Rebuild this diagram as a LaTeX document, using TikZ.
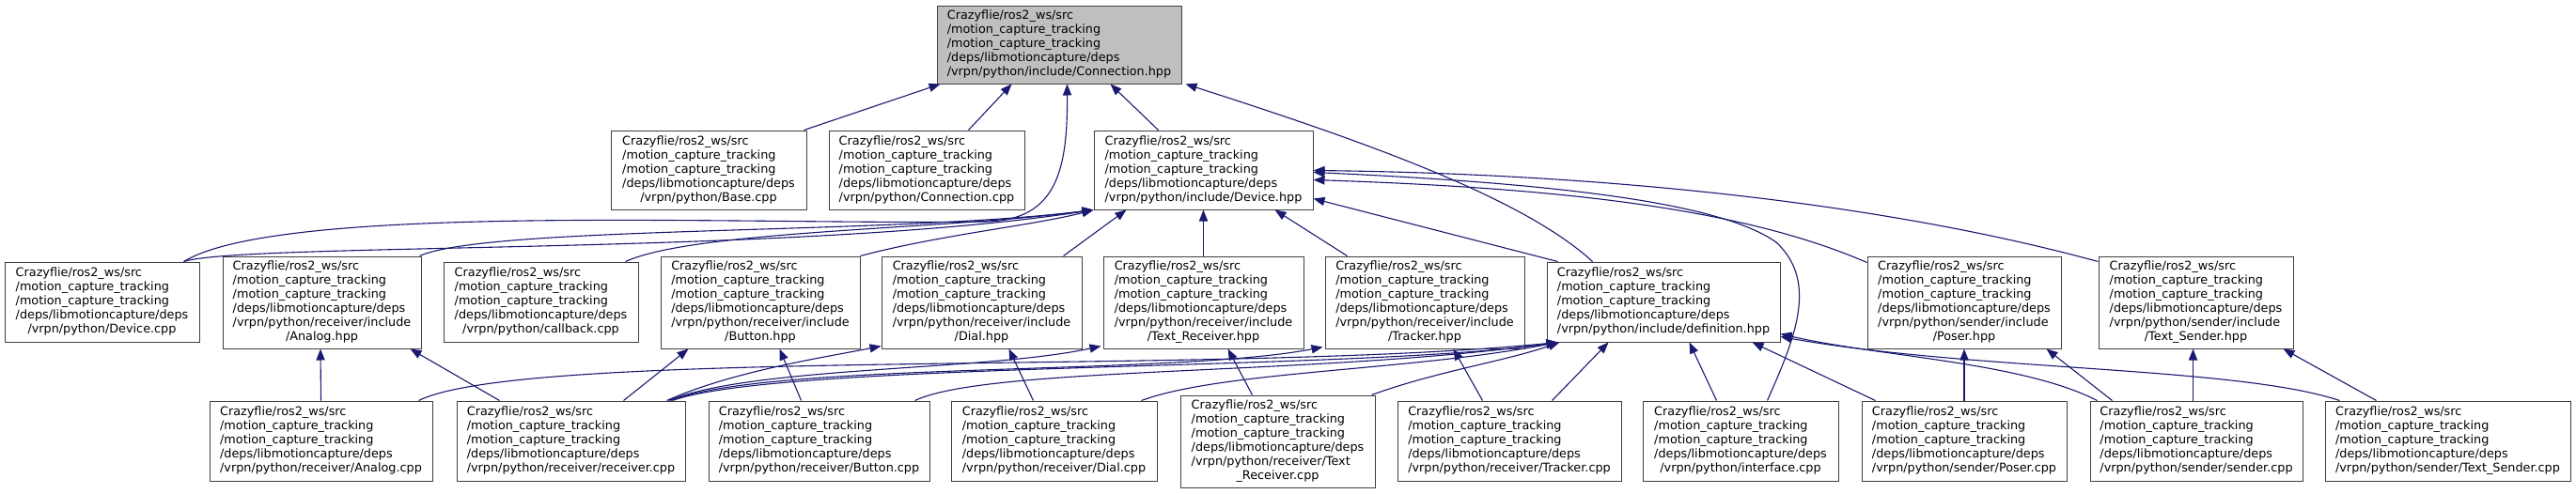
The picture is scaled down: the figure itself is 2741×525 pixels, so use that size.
\documentclass[tikz,border=0pt]{standalone}
\usepackage{fontspec}
\setmainfont{DejaVu Sans}
\usetikzlibrary{arrows.meta,calc}
\definecolor{edgec}{HTML}{191970}
\definecolor{rootfill}{HTML}{BFBFBF}
\newcommand{\pfx}{Crazyflie/ros2\_ws/src\\/motion\_capture\_tracking\\/motion\_capture\_tracking\\/deps/libmotioncapture/deps}
\newcommand{\flabel}[1]{\begin{tabular}{@{}l@{}}\pfx\\\multicolumn{1}{@{}c@{}}{#1}\end{tabular}}
\newcommand{\flabelb}[2]{\begin{tabular}{@{}l@{}}\pfx\\#1\\\multicolumn{1}{@{}c@{}}{#2}\end{tabular}}
\begin{document}
\begin{tikzpicture}[x=0.5pt,y=-0.5pt,
  box/.style={draw=black!75, line width=0.5pt, fill=white, inner sep=0pt,
    font=\fontsize{6.4}{7.5}\selectfont},
  root/.style={box, fill=rootfill},
  dep/.style={draw=edgec, line width=0.55pt, -{Triangle[length=6pt,width=4.6pt]}}]
\useasboundingbox (0,0) rectangle (2741,525);
% row 1
\node[root, minimum width=130pt, minimum height=41.5pt] (C) at (1127,47.5) {\flabel{/vrpn/python/include/Connection.hpp}};
% row 2
\node[box, minimum width=104pt, minimum height=42pt] (Base) at (754,181) {\flabel{/vrpn/python/Base.cpp}};
\node[box, minimum width=104pt, minimum height=42pt] (ConnCpp) at (986,181) {\flabel{/vrpn/python/Connection.cpp}};
\node[box, minimum width=116.5pt, minimum height=42pt] (DevH) at (1280.5,181) {\flabel{/vrpn/python/include/Device.hpp}};
% row 3
\node[box, minimum width=103.5pt, minimum height=42.5pt] (DevCpp) at (108.5,321.5) {\flabel{/vrpn/python/Device.cpp}};
\node[box, minimum width=105.5pt, minimum height=49pt] (AnalogH) at (342.5,322) {\flabelb{/vrpn/python/receiver/include}{/Analog.hpp}};
\node[box, minimum width=103.5pt, minimum height=42.5pt] (callback) at (575.5,321.5) {\flabel{/vrpn/python/callback.cpp}};
\node[box, minimum width=106pt, minimum height=49pt] (ButtonH) at (809,322) {\flabelb{/vrpn/python/receiver/include}{/Button.hpp}};
\node[box, minimum width=106.5pt, minimum height=49pt] (DialH) at (1044.5,322) {\flabelb{/vrpn/python/receiver/include}{/Dial.hpp}};
\node[box, minimum width=106.5pt, minimum height=49pt] (TRH) at (1280.5,322) {\flabelb{/vrpn/python/receiver/include}{/Text\_Receiver.hpp}};
\node[box, minimum width=106pt, minimum height=49pt] (TrackerH) at (1516,322) {\flabelb{/vrpn/python/receiver/include}{/Tracker.hpp}};
\node[box, minimum width=124pt, minimum height=42.5pt] (defH) at (1770,321.5) {\flabel{/vrpn/python/include/definition.hpp}};
\node[box, minimum width=103pt, minimum height=49pt] (PoserH) at (2090,322) {\flabelb{/vrpn/python/sender/include}{/Poser.hpp}};
\node[box, minimum width=103.5pt, minimum height=49pt] (TSH) at (2336.5,322) {\flabelb{/vrpn/python/sender/include}{/Text\_Sender.hpp}};
% row 4
\node[box, minimum width=118.5pt, minimum height=42.5pt] (AnalogCpp) at (341.5,469.5) {\flabel{/vrpn/python/receiver/Analog.cpp}};
\node[box, minimum width=121.5pt, minimum height=42.5pt] (receiver) at (607.5,469.5) {\flabel{/vrpn/python/receiver/receiver.cpp}};
\node[box, minimum width=117.5pt, minimum height=42.5pt] (ButtonCpp) at (871.5,469.5) {\flabel{/vrpn/python/receiver/Button.cpp}};
\node[box, minimum width=109.5pt, minimum height=42.5pt] (DialCpp) at (1121.5,469.5) {\flabel{/vrpn/python/receiver/Dial.cpp}};
\node[box, minimum width=103.5pt, minimum height=49pt] (TRCpp) at (1359.5,470) {\flabelb{/vrpn/python/receiver/Text}{\_Receiver.cpp}};
\node[box, minimum width=119pt, minimum height=42.5pt] (TrackerCpp) at (1606,469.5) {\flabel{/vrpn/python/receiver/Tracker.cpp}};
\node[box, minimum width=104pt, minimum height=42.5pt] (interface) at (1852,469.5) {\flabel{/vrpn/python/interface.cpp}};
\node[box, minimum width=109pt, minimum height=42.5pt] (PoserCpp) at (2090,469.5) {\flabel{/vrpn/python/sender/Poser.cpp}};
\node[box, minimum width=113pt, minimum height=42.5pt] (sender) at (2337,469.5) {\flabel{/vrpn/python/sender/sender.cpp}};
\node[box, minimum width=130.5pt, minimum height=42.5pt] (TSCpp) at (2604.5,469.5) {\flabel{/vrpn/python/sender/Text\_Sender.cpp}};
% edges to Connection.hpp
\draw[dep] ($(Base.north west)+(206,0)$) -- ($(C.south west)+(4,0)$);
\draw[dep] ($(ConnCpp.north west)+(149,0)$) -- ($(C.south west)+(80,0)$);
\draw[dep] ($(DevCpp.north west)+(191,0)$) .. controls (300,215) and (800,240) .. (1050,236) .. controls (1125,234) and (1136,180) .. ($(C.south west)+(139,0)$);
\draw[dep] ($(DevH.north west)+(69,0)$) -- ($(C.south west)+(185,0)$);
\draw[dep] ($(defH.north west)+(49,0)$) .. controls (1620,210) and (1450,150) .. ($(C.south east)+(4,0)$);
% edges to Device.hpp
\draw[dep] ($(DevCpp.north west)+(191,0)$) .. controls (260,258) and (850,272) .. (DevH.south west);
\draw[dep] ($(AnalogH.north west)+(210,0)$) .. controls (520,240) and (950,250) .. (DevH.south west);
\draw[dep] ($(callback.north west)+(194,0)$) .. controls (740,245) and (1000,245) .. (DevH.south west);
\draw[dep] (ButtonH.north east) .. controls (1000,250) and (1100,240) .. (DevH.south west);
\draw[dep] ($(DialH.north west)+(194,0)$) -- ($(DevH.south west)+(35,0)$);
\draw[dep] ($(TRH.north west)+(107,0)$) -- ($(DevH.south west)+(117,0)$);
\draw[dep] ($(TrackerH.north west)+(24,0)$) -- ($(DevH.south west)+(193,0)$);
\draw[dep] ($(defH.north west)+(12,0)$) -- ($(DevH.north east)+(0,73)$);
\draw[dep] ($(PoserH.north west)+(0,7)$) .. controls (1850,220) and (1650,200) .. ($(DevH.north east)+(0,53)$);
\draw[dep] ($(TSH.north west)+(0,6)$) .. controls (2000,215) and (1700,185) .. ($(DevH.north east)+(0,43)$);
\draw[dep] ($(interface.north west)+(133,0)$) .. controls (1910,360) and (1935,300) .. (1890,258) .. controls (1830,215) and (1650,195) .. ($(DevH.north east)+(0,45)$);
% receiver headers
\draw[dep] (AnalogCpp.north) -- ($(AnalogH.south west)+(104.5,0)$);
\draw[dep] ($(receiver.north west)+(46,0)$) -- ($(AnalogH.south west)+(200,0)$);
\draw[dep] ($(receiver.north west)+(178,0)$) -- ($(ButtonH.south west)+(30,0)$);
\draw[dep] ($(ButtonCpp.north west)+(99,0)$) -- ($(ButtonH.south west)+(127,0)$);
\draw[dep] ($(receiver.north west)+(224,0)$) .. controls (780,395) and (880,380) .. ($(DialH.south west)+(0,-3)$);
\draw[dep] ($(DialCpp.north west)+(88,0)$) -- ($(DialH.south west)+(136,0)$);
\draw[dep] ($(receiver.north west)+(226,0)$) .. controls (800,390) and (1050,395) .. ($(TRH.south west)+(-2,-3)$);
\draw[dep] ($(TRCpp.north west)+(77,0)$) -- ($(TRH.south west)+(133,0)$);
\draw[dep] ($(receiver.north west)+(228,0)$) .. controls (820,385) and (1250,400) .. ($(TrackerH.south west)+(-2,-2)$);
\draw[dep] ($(TrackerCpp.north west)+(91,0)$) -- ($(TrackerH.south west)+(137,0)$);
% definition.hpp
\draw[dep] ($(receiver.north west)+(230,0)$) .. controls (830,385) and (1450,395) .. ($(defH.south west)+(12,0)$);
\draw[dep] ($(AnalogCpp.north west)+(223,0)$) .. controls (560,370) and (1300,400) .. ($(defH.south west)+(12,0)$);
\draw[dep] ($(ButtonCpp.north west)+(220,0)$) .. controls (1050,390) and (1400,400) .. ($(defH.south west)+(12,0)$);
\draw[dep] ($(DialCpp.north west)+(203,0)$) .. controls (1300,395) and (1500,395) .. ($(defH.south west)+(12,0)$);
\draw[dep] ($(TRCpp.north west)+(204,0)$) .. controls (1530,395) and (1600,385) .. ($(defH.south west)+(14,0)$);
\draw[dep] ($(TrackerCpp.north west)+(165,0)$) -- ($(defH.south west)+(66,0)$);
\draw[dep] ($(interface.north west)+(79,0)$) -- ($(defH.south west)+(152,0)$);
\draw[dep] ($(PoserCpp.north west)+(15,0)$) -- ($(defH.south west)+(219,0)$);
\draw[dep] ($(sender.north west)+(8,0)$) .. controls (2150,385) and (2000,380) .. ($(defH.south east)+(0,-9)$);
\draw[dep] ($(TSCpp.north west)+(16,0)$) .. controls (2380,390) and (2100,395) .. ($(defH.south east)+(0,-6)$);
% sender headers
\draw[dep] (PoserCpp.north) -- (PoserH.south);
\draw[dep] ($(sender.north west)+(24,0)$) -- ($(PoserH.south west)+(191,0)$);
\draw[dep] ($(sender.north west)+(110,0)$) -- ($(TSH.south west)+(101,0)$);
\draw[dep] ($(TSCpp.north west)+(55,0)$) -- ($(TSH.south west)+(197,0)$);
\end{tikzpicture}
\end{document}
